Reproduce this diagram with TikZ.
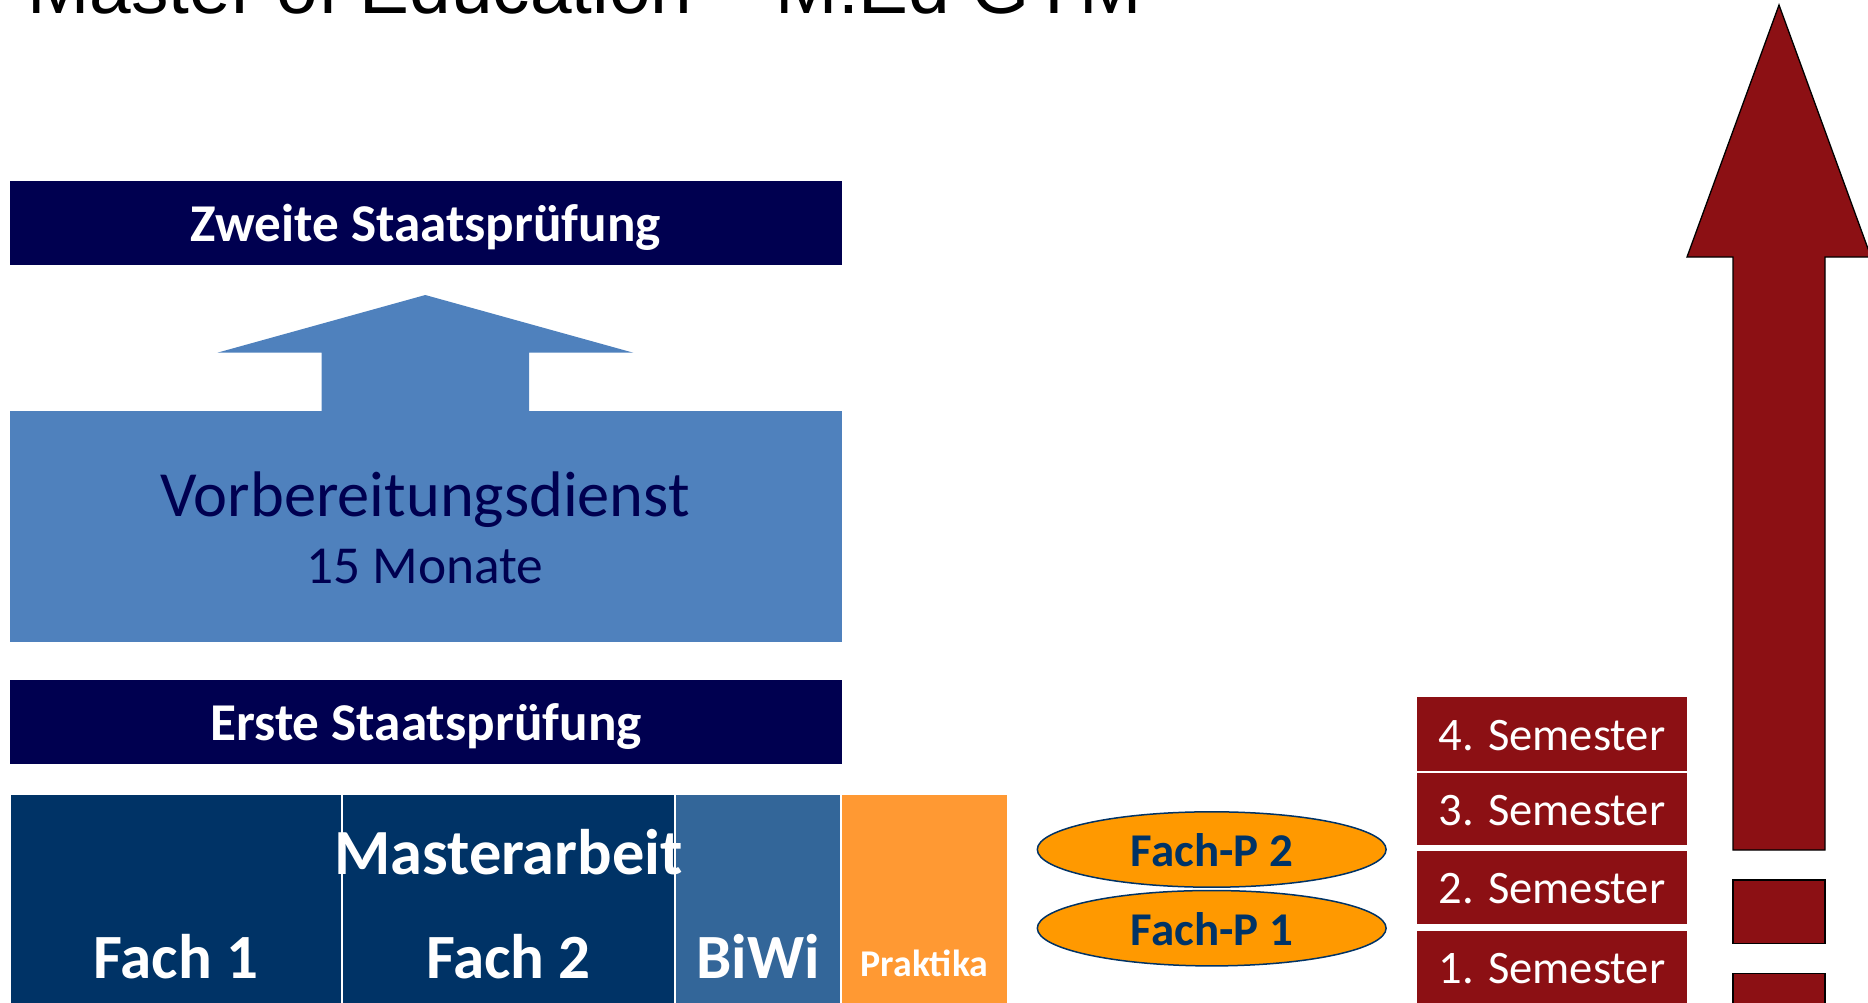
\documentclass[tikz,border=0pt]{standalone}
\usepackage{fontspec}
\setmainfont{Carlito}
\newfontfamily\titlefont{Liberation Sans}
\usetikzlibrary{shapes.geometric,fit}

\definecolor{examnavy}{RGB}{0,0,80}
\definecolor{prepblue}{RGB}{79,129,189}
\definecolor{subjblue}{RGB}{0,51,102}
\definecolor{edublue}{RGB}{51,102,153}
\definecolor{practorange}{RGB}{255,153,51}
\definecolor{examorange}{RGB}{255,153,0}
\definecolor{semred}{RGB}{140,16,20}

\tikzset{
  block/.style={inner sep=0pt, outer sep=0pt, draw=none},
  txt/.style={inner sep=0pt, outer sep=0pt, anchor=base},
  examtxt/.style={txt, text=white, font=\bfseries\fontsize{26.6}{30}\selectfont},
  bigtxt/.style={txt, text=white, font=\bfseries\fontsize{31.5}{36}\selectfont},
  semtxt/.style={txt, text=white, font=\fontsize{23.3}{28}\selectfont},
  oraltxt/.style={txt, text=subjblue, font=\bfseries\fontsize{23.5}{28}\selectfont},
  oral/.style={ellipse, fill=examorange, draw=subjblue, line width=0.75pt,
               inner sep=0pt, minimum width=174.4pt, minimum height=37.7pt},
  redshape/.style={fill=semred, draw=black, line width=0.65pt},
}

\begin{document}
\begin{tikzpicture}[x=0.5pt,y=-0.5pt]
\useasboundingbox (0,0) rectangle (1868,1002);
\clip (0,0) rectangle (1868,1002);

% heading (runs off the top edge)
\node[inner sep=0pt, anchor=base west, font=\titlefont\fontsize{37.4}{42}\selectfont]
  (title) at (27,13.5) {Master of Education – M.Ed GYM};

% second state examination
\node[block, fill=examnavy, fit={(10,181) (842,265)}] (zweite) {};
\node[examtxt] (zweitetxt) at (426,241) {Zweite Staatsprüfung};

% block arrow from the preparatory service up to the second exam
\fill[prepblue] (425.3,295) -- (633.3,352.7) -- (529,352.7) -- (529,411.5)
  -- (321.7,411.5) -- (321.7,352.7) -- (217.3,352.7) -- cycle;

% preparatory service
\node[block, fill=prepblue, fit={(10,410.7) (842,642.3)}] (vorb) {};
\node[txt, text=examnavy, font=\fontsize{32.2}{36}\selectfont]
  (vorbtxt) at (425,516.7) {Vorbereitungsdienst};
\node[txt, text=examnavy, font=\fontsize{26.7}{30}\selectfont]
  (monate) at (425,583.3) {15 Monate};

% first state examination
\node[block, fill=examnavy, fit={(10,680) (842,763.7)}] (erste) {};
\node[examtxt] (erstetxt) at (426,740) {Erste Staatsprüfung};

% study components
\node[block, fill=subjblue, fit={(10.7,795) (340.7,1010)}] (fach1) {};
\node[block, fill=subjblue, fit={(342.7,795) (674,1010)}] (fach2) {};
\node[block, fill=edublue, fit={(676,795) (840,1010)}] (biwi) {};
\node[block, fill=practorange, fit={(842.3,795) (1006.7,1010)}] (prakt) {};
\node[bigtxt] (fach1txt) at (175.7,978.3) {Fach 1};
\node[bigtxt] (fach2txt) at (508.4,978.3) {Fach 2};
\node[bigtxt, font=\bfseries\fontsize{32.2}{36}\selectfont] (masterarbeit) at (508.5,874.5) {Masterarbeit};
\node[bigtxt] (biwitxt) at (758,978.3) {BiWi};
\node[txt, text=white, font=\bfseries\fontsize{18.9}{22}\selectfont]
  (prakttxt) at (924.5,976) {Praktika};

% subject examinations
\node[oral] (fachp2) at (1211.7,849.5) {};
\node[oral] (fachp1) at (1211.7,928.2) {};
\node[oraltxt] (fachp2txt) at (1212,866) {Fach-P 2};
\node[oraltxt] (fachp1txt) at (1212,945) {Fach-P 1};

% semesters
\node[block, fill=semred, fit={(1417,697) (1687,771)}] (sem4) {};
\node[block, fill=semred, fit={(1417,773) (1687,845.3)}] (sem3) {};
\node[block, fill=semred, fit={(1417,850.7) (1687,924.3)}] (sem2) {};
\node[block, fill=semred, fit={(1417,931) (1687,1010)}] (sem1) {};
\node[semtxt] (sem4txt) at (1552,750) {4. Semester};
\node[semtxt] (sem3txt) at (1552,825) {3. Semester};
\node[semtxt] (sem2txt) at (1552,903.3) {2. Semester};
\node[semtxt] (sem1txt) at (1552,983.3) {1. Semester};

% progress arrow with broken shaft
\draw[redshape] (1779,5) -- (1871,257) -- (1825,257) -- (1825,850)
  -- (1733,850) -- (1733,257) -- (1687,257) -- cycle;
\draw[redshape] (1733,880) rectangle (1825,943.3);
\draw[redshape] (1733,973.3) rectangle (1825,1012);
\end{tikzpicture}
\end{document}
